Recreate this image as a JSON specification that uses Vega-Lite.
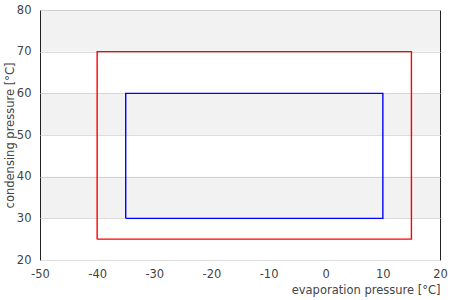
{
  "$schema": "https://vega.github.io/schema/vega-lite/v6.json",
  "width": 400,
  "height": 250,
  "autosize": {"type": "none"},
  "padding": {"left": 40, "top": 10, "right": 10, "bottom": 40},
  "background": "white",
  "config": {
    "font": "DejaVu Sans",
    "view": {"stroke": "#222", "strokeWidth": 1},
    "axis": {"labelFont": "DejaVu Sans", "titleFont": "DejaVu Sans", "labelColor": "#444", "titleColor": "#444", "labelFontSize": 11.5, "titleFontSize": 11.5, "titleFontWeight": "normal", "domain": false, "ticks": false, "labelExpr": "toString(datum.value)"}
  },
  "datasets": {
    "bands": [{"lo": 30, "hi": 40}, {"lo": 50, "hi": 60}, {"lo": 70, "hi": 80}],
    "lines": [
      {"series": "outer", "k": 1, "evap": -40, "cond": 25},
      {"series": "outer", "k": 2, "evap": -40, "cond": 70},
      {"series": "outer", "k": 3, "evap": 15, "cond": 70},
      {"series": "outer", "k": 4, "evap": 15, "cond": 25},
      {"series": "outer", "k": 5, "evap": -40, "cond": 25},
      {"series": "inner", "k": 1, "evap": -35, "cond": 30},
      {"series": "inner", "k": 2, "evap": -35, "cond": 60},
      {"series": "inner", "k": 3, "evap": 10, "cond": 60},
      {"series": "inner", "k": 4, "evap": 10, "cond": 30},
      {"series": "inner", "k": 5, "evap": -35, "cond": 30}
    ]
  },
  "layer": [
    {
      "data": {"name": "bands"},
      "mark": {"type": "rect", "fill": "#000", "opacity": 0.05},
      "encoding": {
        "x": {"datum": -50, "type": "quantitative", "scale": {"domain": [-50, 20], "nice": false}},
        "x2": {"datum": 20},
        "y": {"field": "lo", "type": "quantitative", "scale": {"domain": [20, 80], "nice": false}},
        "y2": {"field": "hi"}
      }
    },
    {
      "data": {"name": "lines"},
      "mark": {"type": "line", "strokeWidth": 1.4, "clip": true},
      "encoding": {
        "x": {"field": "evap", "type": "quantitative", "scale": {"domain": [-50, 20], "nice": false},
          "axis": {"title": "evaporation pressure [°C]", "values": [-50, -40, -30, -20, -10, 0, 10, 20], "gridColor": "#ccc", "labelPadding": 8, "titleAnchor": "end", "titlePadding": 5, "labelFlush": false}},
        "y": {"field": "cond", "type": "quantitative", "scale": {"domain": [20, 80], "nice": false},
          "axis": {"title": "condensing pressure [°C]", "values": [20, 30, 40, 50, 60, 70, 80], "gridColor": "#ddd", "labelPadding": 9, "titlePadding": 1, "labelFlush": false}},
        "color": {"field": "series", "type": "nominal", "scale": {"domain": ["outer", "inner"], "range": ["#f00", "#00f"]}, "legend": null},
        "order": {"field": "k", "type": "quantitative"}
      }
    }
  ]
}
